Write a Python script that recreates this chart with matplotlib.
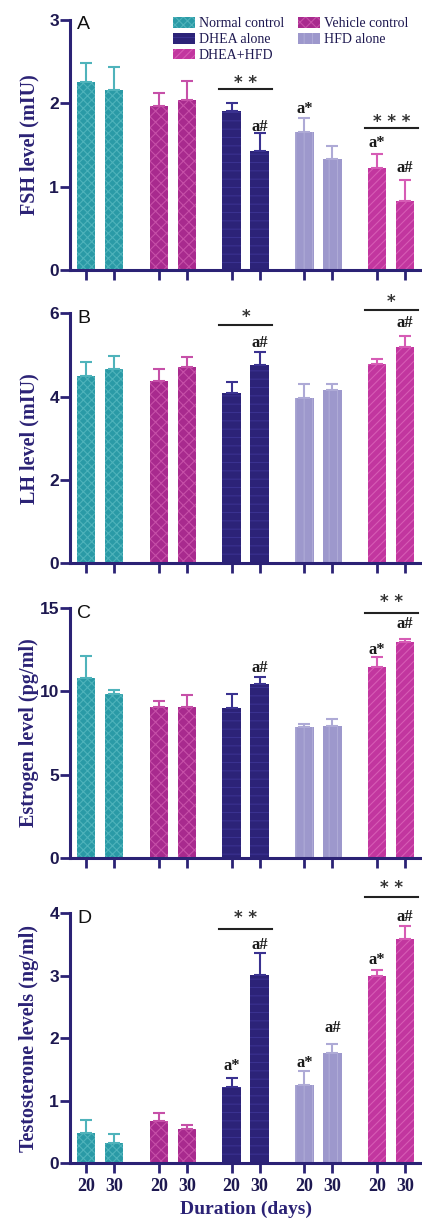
import numpy as np
import matplotlib.pyplot as plt
from matplotlib.patches import Patch

# groups and durations
groups = ["Normal control", "Vehicle control", "DHEA alone", "HFD alone", "DHEA+HFD"]
days = ["20", "30"]

# values (20 d, 30 d) per group, with upper error
fsh = [2.26, 2.16, 1.97, 2.04, 1.91, 1.43, 1.66, 1.33, 1.23, 0.83]
fsh_err = [0.22, 0.28, 0.16, 0.23, 0.10, 0.21, 0.16, 0.16, 0.16, 0.25]
lh = [4.50, 4.66, 4.38, 4.70, 4.08, 4.75, 3.96, 4.16, 4.78, 5.20]
lh_err = [0.34, 0.32, 0.28, 0.24, 0.28, 0.33, 0.34, 0.14, 0.12, 0.26]
est = [10.79, 9.83, 9.04, 9.08, 9.02, 10.45, 7.84, 7.92, 11.47, 12.95]
est_err = [1.34, 0.26, 0.38, 0.71, 0.83, 0.40, 0.18, 0.40, 0.60, 0.20]
tes = [0.48, 0.32, 0.68, 0.55, 1.22, 3.01, 1.25, 1.76, 2.99, 3.59]
tes_err = [0.21, 0.15, 0.12, 0.06, 0.15, 0.35, 0.22, 0.15, 0.11, 0.21]

navy = "#2b2275"
colors = ["#2a9aa6", "#a82a8e", "#2c2378", "#9d98cc", "#c2369f"]
hatch_cols = ["#4fb3bb", "#c650a8", "#3a3290", "#aeaad6", "#d65cb5"]
hatches = ["xxxx", "xxx", "--", "||", "////"]

plt.rcParams["hatch.linewidth"] = 0.8

fig = plt.figure(figsize=(4.22, 12.20), dpi=100)
W, H = 422, 1220


def make_ax(top_px, bot_px):
    return fig.add_axes([70 / W, 1 - bot_px / H, 352 / W, (bot_px - top_px) / H])


x = []
for g in range(5):
    x += [g * 2.6 - 0.5, g * 2.6 + 0.5]
x = np.array(x)


def panel(ax, vals, errs, ymax, step, ylabel, letter):
    for i in range(10):
        g = i // 2
        ax.bar(x[i], vals[i], width=0.66, color=colors[g], edgecolor=hatch_cols[g],
               hatch=hatches[g], linewidth=0, zorder=2)
        ax.errorbar(x[i], vals[i], yerr=[[0], [errs[i]]], fmt="none",
                    ecolor=hatch_cols[g], elinewidth=1.5, capsize=4, capthick=1.5, zorder=3)
    ax.set_xlim(-1.07, 11.5)
    ax.set_ylim(0, ymax)
    ax.set_yticks(np.arange(0, ymax + 0.01, step))
    ax.set_xticks(x)
    ax.set_xticklabels([])
    for s in ["top", "right"]:
        ax.spines[s].set_visible(False)
    for s in ["left", "bottom"]:
        ax.spines[s].set_color(navy)
        ax.spines[s].set_linewidth(2.2)
    ax.tick_params(axis="both", colors=navy, width=2, length=7, direction="out")
    ax.tick_params(axis="y", labelcolor="#1d1850", labelsize=12.5, pad=1)
    for t in ax.get_yticklabels():
        t.set_fontweight("bold")
        t.set_family("Liberation Sans")
    pos = ax.get_position()
    fig.text(29 / W, pos.y0 + pos.height / 2, ylabel, rotation=90, ha="center", va="center",
             family="Liberation Serif", fontweight="bold", fontsize=14.5, color=navy)
    ax.text(0.02, 1.015, letter, transform=ax.transAxes, ha="left", va="top",
            family="Liberation Sans", fontsize=14, color="#111111")


def sig(ax, i, j, y, stars, ystar):
    ax.plot([x[i] - 0.45, x[j] + 0.45], [y, y], color="#222222", lw=1.5, clip_on=False, zorder=4)
    ax.text((x[i] + x[j]) / 2, ystar, stars, ha="center", va="center", fontsize=12,
            fontweight="bold", color="#333333", clip_on=False)


def mark(ax, i, y, s):
    ax.text(x[i], y, s, ha="center", va="center", family="Liberation Serif",
            fontsize=12, fontweight="bold", color="#1a1a1a", clip_on=False)


# A - FSH
axA = make_ax(20, 270)
panel(axA, fsh, fsh_err, 3, 1, "FSH level (mIU)", "A")
sig(axA, 4, 5, 2.17, "* *", 2.24)
sig(axA, 8, 9, 1.71, "* * *", 1.78)
mark(axA, 5, 1.72, "a#")
mark(axA, 6, 1.93, "a*")
mark(axA, 8, 1.52, "a*")
mark(axA, 9, 1.22, "a#")
handles = [Patch(facecolor=colors[k], edgecolor=hatch_cols[k], hatch=hatches[k], linewidth=0)
           for k in [0, 2, 4, 1, 3]]
labels = [groups[k] for k in [0, 2, 4, 1, 3]]
axA.legend(handles, labels, ncol=2, loc="upper left", bbox_to_anchor=(0.293, 1.012),
           frameon=False, prop={"family": "Liberation Serif", "size": 10},
           borderpad=0, borderaxespad=0,
           handlelength=1.6, handleheight=0.8, handletextpad=0.25, columnspacing=1.0,
           labelspacing=0.2, labelcolor="#1d1850")

# B - LH
axB = make_ax(313.3, 563.3)
panel(axB, lh, lh_err, 6, 2, "LH level (mIU)", "B")
sig(axB, 4, 5, 5.72, "*", 5.92)
sig(axB, 8, 9, 6.08, "*", 6.28)
mark(axB, 5, 5.29, "a#")
mark(axB, 9, 5.76, "a#")

# C - Estrogen
axC = make_ax(608.3, 857.7)
panel(axC, est, est_err, 15, 5, "Estrogen level (pg/ml)", "C")
sig(axC, 8, 9, 14.73, "* *", 15.35)
mark(axC, 5, 11.4, "a#")
mark(axC, 8, 12.5, "a*")
mark(axC, 9, 14.05, "a#")

# D - Testosterone
axD = make_ax(913.3, 1163.3)
panel(axD, tes, tes_err, 4, 1, "Testosterone levels (ng/ml)", "D")
sig(axD, 4, 5, 3.75, "* *", 3.92)
sig(axD, 8, 9, 4.26, "* *", 4.40)
mark(axD, 4, 1.55, "a*")
mark(axD, 5, 3.49, "a#")
mark(axD, 6, 1.61, "a*")
mark(axD, 7, 2.16, "a#")
mark(axD, 8, 3.25, "a*")
mark(axD, 9, 3.94, "a#")
axD.set_xticklabels(days * 5, family="Liberation Serif", fontweight="bold",
                    fontsize=13, color="#1d1850")
axD.set_xlabel("Duration (days)", family="Liberation Serif", fontweight="bold",
               fontsize=14, color=navy, labelpad=4)

fig.savefig("out.png", dpi=100, facecolor="white")
